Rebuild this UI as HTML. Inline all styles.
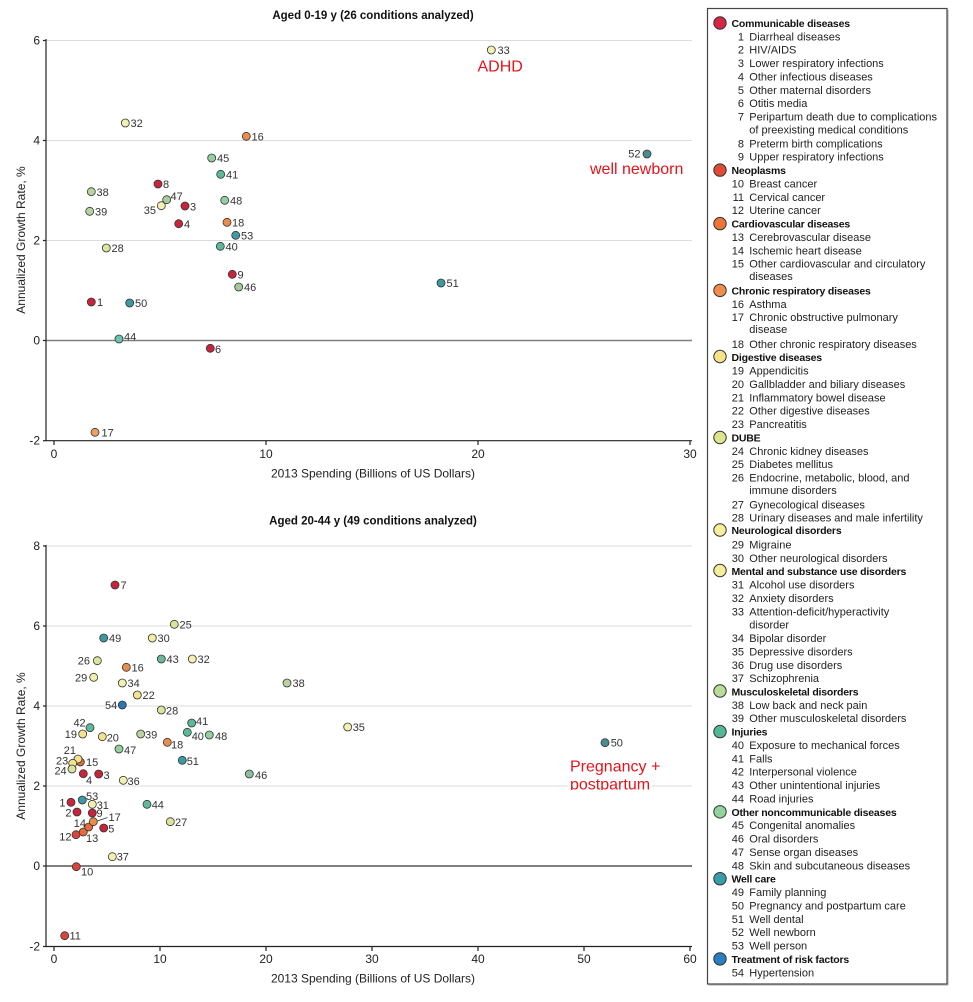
<!DOCTYPE html>
<html><head><meta charset="utf-8"><style>
html,body{margin:0;padding:0;background:#fff;}
svg{display:block;font-family:"Liberation Sans",Arial,sans-serif;}
.c1{fill:#c8243c}.c2{fill:#d8453a}.c3{fill:#e46c3a}.c4{fill:#eb8d4a}.c5{fill:#f3e38c}.c6{fill:#dbe49a}.c7{fill:#f1eea6}.c8{fill:#f4f0b2}.c9{fill:#b8d3a0}.c10{fill:#5db99c}.c11{fill:#94cea3}.c12{fill:#3d9aa3}.c13{fill:#2878b5}
.pt circle{stroke:#333;stroke-width:0.8}
.lb{font-size:11px;fill:#333}
.tk{font-size:12px;fill:#222}
.lg{font-size:11px;fill:#222}
.lh{font-size:10.5px;font-weight:bold;fill:#111;letter-spacing:-0.2px}
.lc{stroke:#333;stroke-width:1}
.red{font-size:16px;fill:#e4141c}
</style></head><body>
<svg width="973" height="1002" viewBox="0 0 973 1002" xmlns="http://www.w3.org/2000/svg">
<rect width="973" height="1002" fill="#fff"/>

<!-- ================= TOP CHART ================= -->
<text x="373" y="19" text-anchor="middle" font-size="11.5" font-weight="bold" fill="#111">Aged 0-19 y (26 conditions analyzed)</text>
<g stroke="#dcdcdc" stroke-width="1">
<line x1="46" y1="40.5" x2="692" y2="40.5"/>
<line x1="46" y1="140.5" x2="692" y2="140.5"/>
<line x1="46" y1="240.5" x2="692" y2="240.5"/>
</g>
<line x1="46" y1="340.5" x2="692" y2="340.5" stroke="#808080" stroke-width="1.5"/>
<g stroke="#222" stroke-width="1.2">
<line x1="46" y1="39" x2="46" y2="441"/>
<line x1="46" y1="440.7" x2="692" y2="440.7"/>
<line x1="43" y1="40.5" x2="46" y2="40.5"/>
<line x1="43" y1="140.5" x2="46" y2="140.5"/>
<line x1="43" y1="240.5" x2="46" y2="240.5"/>
<line x1="43" y1="340.5" x2="46" y2="340.5"/>
<line x1="43" y1="440.7" x2="46" y2="440.7"/>
<line x1="54" y1="441" x2="54" y2="445"/>
<line x1="266" y1="441" x2="266" y2="445"/>
<line x1="478" y1="441" x2="478" y2="445"/>
<line x1="690" y1="441" x2="690" y2="445"/>
</g>
<g class="tk" text-anchor="end">
<text x="40" y="44.5">6</text>
<text x="40" y="144.5">4</text>
<text x="40" y="244.5">2</text>
<text x="40" y="344.5">0</text>
<text x="40" y="444.5">-2</text>
</g>
<g class="tk" text-anchor="middle">
<text x="54" y="458">0</text>
<text x="266" y="458">10</text>
<text x="478" y="458">20</text>
<text x="690" y="458">30</text>
<text x="373" y="477.5">2013 Spending (Billions of US Dollars)</text>
</g>
<text class="tk" text-anchor="middle" transform="translate(25,240) rotate(-90)">Annualized Growth Rate, %</text>

<g class="pt">
<circle cx="91.3" cy="302" r="4" class="c1"/>
<circle cx="185" cy="206" r="4" class="c1"/>
<circle cx="178.7" cy="223.7" r="4" class="c1"/>
<circle cx="210.3" cy="348.3" r="4" class="c1"/>
<circle cx="158" cy="184" r="4" class="c1"/>
<circle cx="232.3" cy="274.3" r="4" class="c1"/>
<circle cx="246.3" cy="136.3" r="4" class="c4"/>
<circle cx="95" cy="432.3" r="4" style="fill:#e9a060"/>
<circle cx="227" cy="222.3" r="4" class="c4"/>
<circle cx="106.3" cy="248" r="4" class="c6"/>
<circle cx="125.3" cy="123" r="4" class="c8"/>
<circle cx="491.3" cy="50" r="4" class="c8"/>
<circle cx="161.3" cy="205.7" r="4" class="c8"/>
<circle cx="91.3" cy="191.7" r="4" class="c9"/>
<circle cx="89.7" cy="211.3" r="4" class="c9"/>
<circle cx="220.3" cy="246.3" r="4" class="c10"/>
<circle cx="220.7" cy="174.3" r="4" class="c10"/>
<circle cx="119" cy="339" r="4" style="fill:#6cc4ae"/>
<circle cx="211.7" cy="158" r="4" class="c11"/>
<circle cx="238.7" cy="287" r="4" style="fill:#a6c8a0"/>
<circle cx="166.7" cy="199.7" r="4" style="fill:#a8cc9a"/>
<circle cx="224.7" cy="200.3" r="4" class="c11"/>
<circle cx="129.7" cy="303" r="4" class="c12"/>
<circle cx="441" cy="283" r="4" class="c12"/>
<circle cx="647" cy="154" r="4" style="fill:#4a8d90"/>
<circle cx="235.7" cy="235.3" r="4" class="c12"/>
</g>
<g class="lb">
<text x="97" y="306">1</text>
<text x="190" y="210.5">3</text>
<text x="184" y="228">4</text>
<text x="215" y="353">6</text>
<text x="163" y="188">8</text>
<text x="237.5" y="278.5">9</text>
<text x="251.5" y="140.5">16</text>
<text x="101.5" y="436.5">17</text>
<text x="232" y="226.5">18</text>
<text x="111.5" y="252">28</text>
<text x="130.5" y="127">32</text>
<text x="497.5" y="54">33</text>
<text x="156" y="214" text-anchor="end">35</text>
<text x="96.5" y="196">38</text>
<text x="95" y="215.5">39</text>
<text x="225.5" y="250.5">40</text>
<text x="226" y="178.5">41</text>
<text x="124" y="340.5">44</text>
<text x="217" y="162">45</text>
<text x="244" y="291">46</text>
<text x="170.5" y="200">47</text>
<text x="230" y="204.5">48</text>
<text x="135" y="307">50</text>
<text x="446.5" y="287">51</text>
<text x="640.5" y="157.5" text-anchor="end">52</text>
<text x="241" y="239.5">53</text>
</g>
<text class="red" x="477.5" y="71.7">ADHD</text>
<text class="red" x="590" y="174">well newborn</text>

<!-- ================= BOTTOM CHART ================= -->
<text x="373" y="524.5" text-anchor="middle" font-size="11.5" font-weight="bold" fill="#111">Aged 20-44 y (49 conditions analyzed)</text>
<g stroke="#dcdcdc" stroke-width="1">
<line x1="46" y1="546" x2="692" y2="546"/>
<line x1="46" y1="626" x2="692" y2="626"/>
<line x1="46" y1="706" x2="692" y2="706"/>
<line x1="46" y1="786" x2="692" y2="786"/>
</g>
<line x1="46" y1="866" x2="692" y2="866" stroke="#333" stroke-width="1.2"/>
<g stroke="#222" stroke-width="1.2">
<line x1="46" y1="545" x2="46" y2="947"/>
<line x1="46" y1="946.5" x2="692" y2="946.5"/>
<line x1="43" y1="546" x2="46" y2="546"/>
<line x1="43" y1="626" x2="46" y2="626"/>
<line x1="43" y1="706" x2="46" y2="706"/>
<line x1="43" y1="786" x2="46" y2="786"/>
<line x1="43" y1="866" x2="46" y2="866"/>
<line x1="43" y1="946.5" x2="46" y2="946.5"/>
<line x1="54" y1="947" x2="54" y2="951"/>
<line x1="160" y1="947" x2="160" y2="951"/>
<line x1="266" y1="947" x2="266" y2="951"/>
<line x1="372" y1="947" x2="372" y2="951"/>
<line x1="478" y1="947" x2="478" y2="951"/>
<line x1="584" y1="947" x2="584" y2="951"/>
<line x1="690" y1="947" x2="690" y2="951"/>
</g>
<g class="tk" text-anchor="end">
<text x="40" y="550">8</text>
<text x="40" y="630">6</text>
<text x="40" y="710">4</text>
<text x="40" y="790">2</text>
<text x="40" y="870">0</text>
<text x="40" y="950.5">-2</text>
</g>
<g class="tk" text-anchor="middle">
<text x="54" y="963">0</text>
<text x="160" y="963">10</text>
<text x="266" y="963">20</text>
<text x="372" y="963">30</text>
<text x="478" y="963">40</text>
<text x="584" y="963">50</text>
<text x="690" y="963">60</text>
<text x="373" y="982.5">2013 Spending (Billions of US Dollars)</text>
</g>
<text class="tk" text-anchor="middle" transform="translate(25,746) rotate(-90)">Annualized Growth Rate, %</text>

<line x1="97.5" y1="821" x2="107.5" y2="817.5" stroke="#333" stroke-width="0.8"/>
<g class="pt">
<circle cx="71" cy="802.3" r="4" class="c1"/>
<circle cx="77" cy="812" r="4" class="c1"/>
<circle cx="98.7" cy="774" r="4" class="c1"/>
<circle cx="83.3" cy="773.7" r="4" class="c1"/>
<circle cx="103.7" cy="828" r="4" class="c1"/>
<circle cx="115" cy="585" r="4" class="c1"/>
<circle cx="92.3" cy="813" r="4" class="c1"/>
<circle cx="76.3" cy="866.7" r="4" class="c2"/>
<circle cx="64.7" cy="935.7" r="4" class="c2"/>
<circle cx="76" cy="834.7" r="4" class="c2"/>
<circle cx="83.3" cy="832" r="4" class="c3"/>
<circle cx="88.7" cy="827" r="4" class="c3"/>
<circle cx="80.3" cy="762" r="4" class="c3"/>
<circle cx="126.3" cy="667.3" r="4" class="c4"/>
<circle cx="93.3" cy="821.7" r="4" class="c4"/>
<circle cx="167.3" cy="742.3" r="4" class="c4"/>
<circle cx="82.7" cy="734" r="4" class="c5"/>
<circle cx="102.3" cy="736.7" r="4" class="c5"/>
<circle cx="78" cy="759" r="4" class="c5"/>
<circle cx="137.3" cy="695" r="4" class="c5"/>
<circle cx="72.7" cy="763.3" r="4" class="c5"/>
<circle cx="72" cy="769" r="4" class="c6"/>
<circle cx="174.3" cy="624.3" r="4" class="c6"/>
<circle cx="97.3" cy="660.7" r="4" class="c6"/>
<circle cx="170.3" cy="821.7" r="4" class="c6"/>
<circle cx="161.3" cy="710" r="4" class="c6"/>
<circle cx="93.7" cy="677.3" r="4" class="c7"/>
<circle cx="152.3" cy="638" r="4" class="c7"/>
<circle cx="92.3" cy="804.3" r="4" class="c8"/>
<circle cx="192.3" cy="659" r="4" class="c8"/>
<circle cx="122.3" cy="683" r="4" class="c8"/>
<circle cx="347.7" cy="727" r="4" class="c8"/>
<circle cx="123.3" cy="780.3" r="4" class="c8"/>
<circle cx="112.3" cy="856.7" r="4" class="c8"/>
<circle cx="287" cy="683" r="4" class="c9"/>
<circle cx="140.7" cy="734" r="4" class="c9"/>
<circle cx="187.3" cy="732.3" r="4" class="c10"/>
<circle cx="191.7" cy="723" r="4" class="c10"/>
<circle cx="90" cy="727.7" r="4" class="c10"/>
<circle cx="161.3" cy="659" r="4" style="fill:#6bb89a"/>
<circle cx="147" cy="804.3" r="4" class="c10"/>
<circle cx="249.3" cy="774" r="4" style="fill:#8cc09c"/>
<circle cx="119" cy="749" r="4" class="c11"/>
<circle cx="209.3" cy="735" r="4" class="c11"/>
<circle cx="103.7" cy="638" r="4" class="c12"/>
<circle cx="605" cy="742.7" r="4" style="fill:#4a8d90"/>
<circle cx="182.3" cy="760.3" r="4" class="c12"/>
<circle cx="82.3" cy="800" r="4" class="c12"/>
<circle cx="122.3" cy="705" r="4" class="c13"/>
</g>
<g class="lb">
<text x="65.5" y="806.3" text-anchor="end">1</text>
<text x="71.5" y="816.5" text-anchor="end">2</text>
<text x="103.5" y="779">3</text>
<text x="86" y="784">4</text>
<text x="108.3" y="832.5">5</text>
<text x="120.5" y="589">7</text>
<text x="96.5" y="817">9</text>
<text x="81" y="875.7">10</text>
<text x="69.5" y="939.7">11</text>
<text x="71.5" y="840.5" text-anchor="end">12</text>
<text x="86" y="842">13</text>
<text x="86" y="827" text-anchor="end">14</text>
<text x="86" y="766">15</text>
<text x="131.5" y="671.5">16</text>
<text x="108.5" y="821">17</text>
<text x="171" y="748.3">18</text>
<text x="77" y="738" text-anchor="end">19</text>
<text x="106.7" y="741.7">20</text>
<text x="76" y="754" text-anchor="end">21</text>
<text x="142.5" y="699">22</text>
<text x="68.3" y="764.7" text-anchor="end">23</text>
<text x="66.7" y="774.7" text-anchor="end">24</text>
<text x="179.5" y="628.5">25</text>
<text x="90" y="664.7" text-anchor="end">26</text>
<text x="175" y="826">27</text>
<text x="166" y="714.7">28</text>
<text x="87.3" y="681.3" text-anchor="end">29</text>
<text x="157.5" y="642">30</text>
<text x="96.7" y="809">31</text>
<text x="197.5" y="663">32</text>
<text x="127.5" y="687">34</text>
<text x="352.7" y="731">35</text>
<text x="127.5" y="785">36</text>
<text x="116.7" y="860.7">37</text>
<text x="292.5" y="687">38</text>
<text x="145" y="738.7">39</text>
<text x="191.7" y="740">40</text>
<text x="196" y="725">41</text>
<text x="85.7" y="726.7" text-anchor="end">42</text>
<text x="166.5" y="663">43</text>
<text x="151.7" y="808.5">44</text>
<text x="255" y="779">46</text>
<text x="124" y="754">47</text>
<text x="215" y="740">48</text>
<text x="109" y="642">49</text>
<text x="610.7" y="746.7">50</text>
<text x="186.7" y="765">51</text>
<text x="86" y="800">53</text>
<text x="117.3" y="709" text-anchor="end">54</text>
</g>
<defs><clipPath id="pc"><rect x="560" y="750" width="110" height="40"/></clipPath></defs>
<rect x="568" y="757" width="84" height="33" fill="#fff"/>
<g clip-path="url(#pc)">
<text class="red" x="570" y="771.7">Pregnancy +</text>
<text class="red" x="570" y="789.3">postpartum</text>
</g>

<!-- ================= LEGEND ================= -->
<rect x="707.5" y="8.5" width="239.5" height="975.5" fill="#fff" stroke="#444" stroke-width="1.2"/>
<line x1="708.5" y1="985" x2="948" y2="985" stroke="#aaa" stroke-width="1"/>
<line x1="948" y1="9.5" x2="948" y2="985" stroke="#aaa" stroke-width="1"/>
<g class="lc">
<circle cx="720" cy="23" r="6.2" fill="#d42745"/>
<circle cx="720" cy="170.1" r="6.2" fill="#e24a38"/>
<circle cx="720" cy="223.6" r="6.2" fill="#ee7536"/>
<circle cx="720" cy="290.4" r="6.2" fill="#f08d4c"/>
<circle cx="720" cy="356.5" r="6.2" fill="#f6e488"/>
<circle cx="720" cy="437.5" r="6.2" fill="#dfe58e"/>
<circle cx="720" cy="530" r="6.2" fill="#f4f09c"/>
<circle cx="720" cy="570.5" r="6.2" fill="#f3ee9c"/>
<circle cx="720" cy="691" r="6.2" fill="#b9dc98"/>
<circle cx="720" cy="731.6" r="6.2" fill="#52b897"/>
<circle cx="720" cy="811.8" r="6.2" fill="#94d3a0"/>
<circle cx="720" cy="878.7" r="6.2" fill="#3a9ea8"/>
<circle cx="720" cy="958.9" r="6.2" fill="#2b7fc1"/>
</g>
<g class="lh">
<text x="731.5" y="27">Communicable diseases</text>
<text x="731.5" y="174.1">Neoplasms</text>
<text x="731.5" y="227.6">Cardiovascular diseases</text>
<text x="731.5" y="294.4">Chronic respiratory diseases</text>
<text x="731.5" y="361">Digestive diseases</text>
<text x="731.5" y="441.5">DUBE</text>
<text x="731.5" y="534">Neurological disorders</text>
<text x="731.5" y="574.8">Mental and substance use disorders</text>
<text x="731.5" y="695.5">Musculoskeletal disorders</text>
<text x="731.5" y="735.6">Injuries</text>
<text x="731.5" y="815.8">Other noncommunicable diseases</text>
<text x="731.5" y="882.7">Well care</text>
<text x="731.5" y="962.9">Treatment of risk factors</text>
</g>
<g class="lg" text-anchor="end">
<text x="744" y="40.4">1</text>
<text x="744" y="53.7">2</text>
<text x="744" y="67.1">3</text>
<text x="744" y="80.5">4</text>
<text x="744" y="93.9">5</text>
<text x="744" y="107.2">6</text>
<text x="744" y="120.6">7</text>
<text x="744" y="147.3">8</text>
<text x="744" y="160.7">9</text>
<text x="744" y="187.4">10</text>
<text x="744" y="200.8">11</text>
<text x="744" y="214.2">12</text>
<text x="744" y="240.9">13</text>
<text x="744" y="254.3">14</text>
<text x="744" y="267.7">15</text>
<text x="744" y="307.8">16</text>
<text x="744" y="321.1">17</text>
<text x="744" y="347.9">18</text>
<text x="744" y="374.6">19</text>
<text x="744" y="388">20</text>
<text x="744" y="401.4">21</text>
<text x="744" y="414.7">22</text>
<text x="744" y="428.1">23</text>
<text x="744" y="454.8">24</text>
<text x="744" y="468.2">25</text>
<text x="744" y="481.6">26</text>
<text x="744" y="508.3">27</text>
<text x="744" y="521.7">28</text>
<text x="744" y="548.4">29</text>
<text x="744" y="561.8">30</text>
<text x="744" y="588.5">31</text>
<text x="744" y="601.9">32</text>
<text x="744" y="615.3">33</text>
<text x="744" y="642">34</text>
<text x="744" y="655.4">35</text>
<text x="744" y="668.8">36</text>
<text x="744" y="682.1">37</text>
<text x="744" y="708.9">38</text>
<text x="744" y="722.2">39</text>
<text x="744" y="749">40</text>
<text x="744" y="762.4">41</text>
<text x="744" y="775.7">42</text>
<text x="744" y="789.1">43</text>
<text x="744" y="802.5">44</text>
<text x="744" y="829.2">45</text>
<text x="744" y="842.6">46</text>
<text x="744" y="855.9">47</text>
<text x="744" y="869.3">48</text>
<text x="744" y="896.1">49</text>
<text x="744" y="909.4">50</text>
<text x="744" y="922.8">51</text>
<text x="744" y="936.2">52</text>
<text x="744" y="949.5">53</text>
<text x="744" y="976.3">54</text>
</g>
<g class="lg">
<text x="749.3" y="40.4">Diarrheal diseases</text>
<text x="749.3" y="53.7">HIV/AIDS</text>
<text x="749.3" y="67.1">Lower respiratory infections</text>
<text x="749.3" y="80.5">Other infectious diseases</text>
<text x="749.3" y="93.9">Other maternal disorders</text>
<text x="749.3" y="107.2">Otitis media</text>
<text x="749.3" y="120.6">Peripartum death due to complications</text>
<text x="749.3" y="133.5">of preexisting medical conditions</text>
<text x="749.3" y="147.3">Preterm birth complications</text>
<text x="749.3" y="160.7">Upper respiratory infections</text>
<text x="749.3" y="187.4">Breast cancer</text>
<text x="749.3" y="200.8">Cervical cancer</text>
<text x="749.3" y="214.2">Uterine cancer</text>
<text x="749.3" y="240.9">Cerebrovascular disease</text>
<text x="749.3" y="254.3">Ischemic heart disease</text>
<text x="749.3" y="267.7">Other cardiovascular and circulatory</text>
<text x="749.3" y="280">diseases</text>
<text x="749.3" y="307.8">Asthma</text>
<text x="749.3" y="321.1">Chronic obstructive pulmonary</text>
<text x="749.3" y="333">disease</text>
<text x="749.3" y="347.9">Other chronic respiratory diseases</text>
<text x="749.3" y="374.6">Appendicitis</text>
<text x="749.3" y="388">Gallbladder and biliary diseases</text>
<text x="749.3" y="401.4">Inflammatory bowel disease</text>
<text x="749.3" y="414.7">Other digestive diseases</text>
<text x="749.3" y="428.1">Pancreatitis</text>
<text x="749.3" y="454.8">Chronic kidney diseases</text>
<text x="749.3" y="468.2">Diabetes mellitus</text>
<text x="749.3" y="481.6">Endocrine, metabolic, blood, and</text>
<text x="749.3" y="494">immune disorders</text>
<text x="749.3" y="508.3">Gynecological diseases</text>
<text x="749.3" y="521.7">Urinary diseases and male infertility</text>
<text x="749.3" y="548.4">Migraine</text>
<text x="749.3" y="561.8">Other neurological disorders</text>
<text x="749.3" y="588.5">Alcohol use disorders</text>
<text x="749.3" y="601.9">Anxiety disorders</text>
<text x="749.3" y="615.3">Attention-deficit/hyperactivity</text>
<text x="749.3" y="628.3">disorder</text>
<text x="749.3" y="642">Bipolar disorder</text>
<text x="749.3" y="655.4">Depressive disorders</text>
<text x="749.3" y="668.8">Drug use disorders</text>
<text x="749.3" y="682.1">Schizophrenia</text>
<text x="749.3" y="708.9">Low back and neck pain</text>
<text x="749.3" y="722.2">Other musculoskeletal disorders</text>
<text x="749.3" y="749">Exposure to mechanical forces</text>
<text x="749.3" y="762.4">Falls</text>
<text x="749.3" y="775.7">Interpersonal violence</text>
<text x="749.3" y="789.1">Other unintentional injuries</text>
<text x="749.3" y="802.5">Road injuries</text>
<text x="749.3" y="829.2">Congenital anomalies</text>
<text x="749.3" y="842.6">Oral disorders</text>
<text x="749.3" y="855.9">Sense organ diseases</text>
<text x="749.3" y="869.3">Skin and subcutaneous diseases</text>
<text x="749.3" y="896.1">Family planning</text>
<text x="749.3" y="909.4">Pregnancy and postpartum care</text>
<text x="749.3" y="922.8">Well dental</text>
<text x="749.3" y="936.2">Well newborn</text>
<text x="749.3" y="949.5">Well person</text>
<text x="749.3" y="976.3">Hypertension</text>
</g>
</svg>
</body></html>
